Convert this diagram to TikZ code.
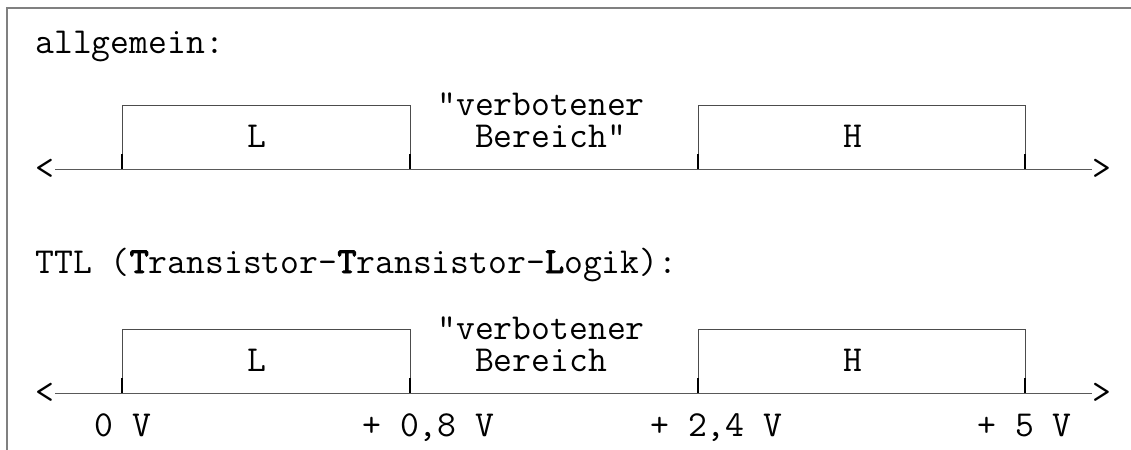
\documentclass[tikz,border=0pt]{standalone}
\usepackage{fontspec}
\newfontfamily\fettmono{lmmono10-regular.otf}[FakeBold=2.5]
\newcommand{\fett}[1]{{\fettmono #1}}
\newcommand{\pegelband}[1]{\draw[kasten] (122,169) |- (410,105) -- (410,169);
					\draw[kasten] (698,169) |- (1025,105) -- (1025,169);
					\foreach \x in {122,410,698,1025}
						\draw[marke] (\x,169) -- (\x,154);
					\node[schrift, anchor=east] (links) at (55,169) {<};
					\node[schrift, anchor=west] (rechts) at (1092,169) {>};
					\draw[achse] (links) -- (rechts);
					\node[schrift, anchor=base] (low) at (257,147) {L};
					\node[schrift, anchor=base] (high) at (853,147) {H};
					\node[schrift, anchor=base west, align=left] (verb) at (437,147)
						{"verbotener\\\phantom{xx}Bereich#1};}

\begin{document}
\begin{tikzpicture}[x=0.5pt, y=-0.5pt,
		schrift/.style={inner sep=0pt, font=\ttfamily\fontsize{18.3pt}{16pt}\selectfont},
		kasten/.style={draw=black!70, line width=0.5pt},
		achse/.style={draw=black!65, line width=0.5pt},
		marke/.style={draw=black, line width=1pt},
		rahmen/.style={draw=black!50, line width=1pt}]

					\useasboundingbox (0,0) rectangle (1131,450);
					\draw[rahmen] (7,450) -- (7,8) -- (1131,8);

					% allgemein
					\node[schrift, anchor=base west] (allg) at (35,53) {allgemein:};
					\pegelband{"}

					% TTL
					\node[schrift, anchor=base west] (ttl) at (35,273)
						{TTL (\fett{T}ransistor-\fett{T}ransistor-\fett{L}ogik):};
					\begin{scope}[shift={(0,224)}]
						\pegelband{}
						\node[schrift, anchor=base west] (u0) at (94,212) {0 V};
						\node[schrift, anchor=base west] (u1) at (362,212) {+ 0,8 V};
						\node[schrift, anchor=base west] (u2) at (650,212) {+ 2,4 V};
						\node[schrift, anchor=base west] (u3) at (977,212) {+ 5 V};
					\end{scope}

				\end{tikzpicture}
\end{document}
